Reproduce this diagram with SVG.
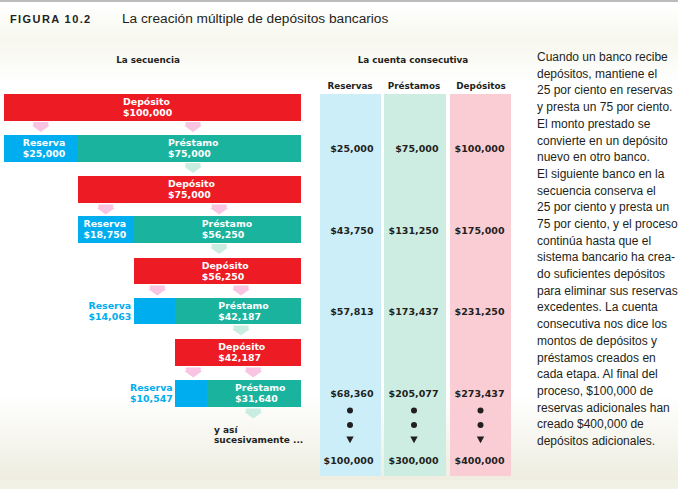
<svg xmlns="http://www.w3.org/2000/svg" xmlns:xlink="http://www.w3.org/1999/xlink" width="678" height="489" viewBox="0 0 678 489">
<defs>
<linearGradient id="topbg" x1="0" y1="0" x2="0" y2="1">
<stop offset="0" stop-color="#ffffff"/>
<stop offset="0.45" stop-color="#f7f7ee"/>
<stop offset="1" stop-color="#ffffff"/>
</linearGradient>
<linearGradient id="botbg" x1="0" y1="0" x2="0" y2="1">
<stop offset="0" stop-color="#ffffff"/>
<stop offset="1" stop-color="#eeede0"/>
</linearGradient>
<path id="pa" d="M-7.5,0 h15 v3.5 h1.5 l-9,6.5 l-9,-6.5 h1.5 z" fill="#f8c4e2"/>
<path id="ga" d="M-7.5,0 h15 v3.5 h1.5 l-9,6.5 l-9,-6.5 h1.5 z" fill="#c9ede1"/>
<style>
.red{fill:#ed1c24}
.blue{fill:#00aeef}
.teal{fill:#1ab39d}
.bt{font-family:"DejaVu Sans",sans-serif;font-weight:bold;font-size:9.4px;fill:#ffffff}
.bo{font-family:"DejaVu Sans",sans-serif;font-weight:bold;font-size:9.4px;fill:#00aeef}
.hd{font-family:"DejaVu Sans",sans-serif;font-weight:bold;font-size:8.8px;fill:#231f20;text-anchor:middle}
.val{font-family:"DejaVu Sans",sans-serif;font-weight:bold;font-size:9.5px;fill:#231f20;text-anchor:end}
.dk{font-family:"DejaVu Sans",sans-serif;font-weight:bold;font-size:9px;fill:#231f20}
.para{font-family:"Liberation Sans",Arial,sans-serif;font-size:12px;fill:#231f20}
</style>
</defs>
<rect x="0" y="0" width="678" height="489" fill="#ffffff"/>
<rect x="0" y="5" width="678" height="80" fill="url(#topbg)"/>
<rect x="0" y="395" width="678" height="85" fill="url(#botbg)"/>
<rect x="0" y="480" width="678" height="9" fill="#f2f1e6"/>
<line x1="0" y1="1" x2="678" y2="1" stroke="#a6a6a6" stroke-width="1.5"/>

<g id="title">
<text x="10" y="22.5" font-family="Liberation Sans, Arial, sans-serif" font-weight="bold" font-size="11px" letter-spacing="1.4" fill="#231f20">FIGURA 10.2</text>
<text x="122" y="22.5" font-family="Liberation Sans, Arial, sans-serif" font-size="13.7px" fill="#231f20">La creación múltiple de depósitos bancarios</text>
</g>

<g id="headers">
<text class="hd" x="148" y="63" font-size="9.4px">La secuencia</text>
<text class="hd" x="413" y="63" font-size="9.4px">La cuenta consecutiva</text>
<text class="hd" x="350" y="89">Reservas</text>
<text class="hd" x="414" y="89">Préstamos</text>
<text class="hd" x="481" y="89">Depósitos</text>
</g>

<g id="columns">
<rect x="320" y="94" width="61" height="382" fill="#cceef9"/>
<rect x="384" y="94" width="62" height="382" fill="#cdede3"/>
<rect x="450" y="94" width="61" height="382" fill="#facdd5"/>
</g>

<g id="col-values">
<text class="val" x="373.5" y="151.5">$25,000</text>
<text class="val" x="438.5" y="151.5">$75,000</text>
<text class="val" x="504.5" y="151.5">$100,000</text>
<text class="val" x="373.5" y="233.5">$43,750</text>
<text class="val" x="438.5" y="233.5">$131,250</text>
<text class="val" x="504.5" y="233.5">$175,000</text>
<text class="val" x="373.5" y="315">$57,813</text>
<text class="val" x="438.5" y="315">$173,437</text>
<text class="val" x="504.5" y="315">$231,250</text>
<text class="val" x="373.5" y="397">$68,360</text>
<text class="val" x="438.5" y="397">$205,077</text>
<text class="val" x="504.5" y="397">$273,437</text>
<g fill="#231f20">
<circle cx="350" cy="410.5" r="3"/><circle cx="350" cy="425" r="3"/><path d="M346.3,436.5 h7.4 l-3.7,6.8 z"/>
<circle cx="414" cy="410.5" r="3"/><circle cx="414" cy="425" r="3"/><path d="M410.3,436.5 h7.4 l-3.7,6.8 z"/>
<circle cx="480.5" cy="410.5" r="3"/><circle cx="480.5" cy="425" r="3"/><path d="M476.8,436.5 h7.4 l-3.7,6.8 z"/>
</g>
<text class="val" x="373.5" y="464">$100,000</text>
<text class="val" x="438.5" y="464">$300,000</text>
<text class="val" x="504.5" y="464">$400,000</text>
</g>

<g id="connectors">
<use xlink:href="#pa" x="40.8" y="122"/>
<use xlink:href="#pa" x="193" y="122"/>
<use xlink:href="#ga" x="193" y="163"/>
<use xlink:href="#pa" x="105.8" y="204.5"/>
<use xlink:href="#pa" x="219.2" y="204.5"/>
<use xlink:href="#ga" x="219.2" y="244"/>
<use xlink:href="#pa" x="157.3" y="285.5"/>
<use xlink:href="#pa" x="241" y="285.5"/>
<use xlink:href="#ga" x="241" y="325.5"/>
<use xlink:href="#pa" x="193.3" y="367.5"/>
<use xlink:href="#pa" x="253.3" y="367.5"/>
<use xlink:href="#ga" x="253.3" y="408.5"/>
</g>

<g id="deposito1">
<rect class="red" x="4" y="94" width="297" height="27"/>
<text class="bt" x="123" y="104.8">Depósito</text>
<text class="bt" x="123" y="115.8">$100,000</text>
</g>
<g id="reserva1">
<rect class="blue" x="4" y="135" width="74" height="27"/>
<text class="bt" x="22.7" y="145.8">Reserva</text>
<text class="bt" x="22.7" y="156.8">$25,000</text>
</g>
<g id="prestamo1">
<rect class="teal" x="78" y="135" width="223" height="27"/>
<text class="bt" x="168" y="145.8">Préstamo</text>
<text class="bt" x="168" y="156.8">$75,000</text>
</g>
<g id="deposito2">
<rect class="red" x="78" y="176" width="223" height="27"/>
<text class="bt" x="168" y="186.8">Depósito</text>
<text class="bt" x="168" y="197.8">$75,000</text>
</g>
<g id="reserva2">
<rect class="blue" x="78" y="216" width="56" height="27"/>
<text class="bt" x="83.5" y="226.8">Reserva</text>
<text class="bt" x="83.5" y="237.8">$18,750</text>
</g>
<g id="prestamo2">
<rect class="teal" x="134" y="216" width="167" height="27"/>
<text class="bt" x="201.7" y="226.8">Préstamo</text>
<text class="bt" x="201.7" y="237.8">$56,250</text>
</g>
<g id="deposito3">
<rect class="red" x="134" y="258" width="167" height="26"/>
<text class="bt" x="201.7" y="268.5">Depósito</text>
<text class="bt" x="201.7" y="279.5">$56,250</text>
</g>
<g id="reserva3">
<rect class="blue" x="134" y="298" width="41" height="26"/>
<text class="bo" x="88.5" y="308.8">Reserva</text>
<text class="bo" x="88.5" y="319.8">$14,063</text>
</g>
<g id="prestamo3">
<rect class="teal" x="175" y="298" width="126" height="26"/>
<text class="bt" x="218.3" y="308.8">Préstamo</text>
<text class="bt" x="218.3" y="319.8">$42,187</text>
</g>
<g id="deposito4">
<rect class="red" x="175" y="339" width="126" height="27"/>
<text class="bt" x="218.3" y="349.8">Depósito</text>
<text class="bt" x="218.3" y="360.8">$42,187</text>
</g>
<g id="reserva4">
<rect class="blue" x="175" y="380" width="32" height="27"/>
<text class="bo" x="130" y="390.8">Reserva</text>
<text class="bo" x="130" y="401.8">$10,547</text>
</g>
<g id="prestamo4">
<rect class="teal" x="207" y="380" width="94" height="27"/>
<text class="bt" x="235" y="390.8">Préstamo</text>
<text class="bt" x="235" y="401.8">$31,640</text>
</g>
<g id="etc">
<text class="dk" x="214" y="432.5">y así</text>
<text class="dk" x="214" y="443">sucesivamente ...</text>
</g>

<g id="explicacion">
<text class="para">
<tspan x="537" y="61">Cuando un banco recibe</tspan>
<tspan x="537" dy="16.7">depósitos, mantiene el</tspan>
<tspan x="537" dy="16.7">25 por ciento en reservas</tspan>
<tspan x="537" dy="16.7">y presta un 75 por ciento.</tspan>
<tspan x="537" dy="16.7">El monto prestado se</tspan>
<tspan x="537" dy="16.7">convierte en un depósito</tspan>
<tspan x="537" dy="16.7">nuevo en otro banco.</tspan>
<tspan x="537" dy="16.7">El siguiente banco en la</tspan>
<tspan x="537" dy="16.7">secuencia conserva el</tspan>
<tspan x="537" dy="16.7">25 por ciento y presta un</tspan>
<tspan x="537" dy="16.7">75 por ciento, y el proceso</tspan>
<tspan x="537" dy="16.7">continúa hasta que el</tspan>
<tspan x="537" dy="16.7">sistema bancario ha crea-</tspan>
<tspan x="537" dy="16.7">do suficientes depósitos</tspan>
<tspan x="537" dy="16.7">para eliminar sus reservas</tspan>
<tspan x="537" dy="16.7">excedentes. La cuenta</tspan>
<tspan x="537" dy="16.7">consecutiva nos dice los</tspan>
<tspan x="537" dy="16.7">montos de depósitos y</tspan>
<tspan x="537" dy="16.7">préstamos creados en</tspan>
<tspan x="537" dy="16.7">cada etapa. Al final del</tspan>
<tspan x="537" dy="16.7">proceso, $100,000 de</tspan>
<tspan x="537" dy="16.7">reservas adicionales han</tspan>
<tspan x="537" dy="16.7">creado $400,000 de</tspan>
<tspan x="537" dy="16.7">depósitos adicionales.</tspan>
</text>
</g>
</svg>
